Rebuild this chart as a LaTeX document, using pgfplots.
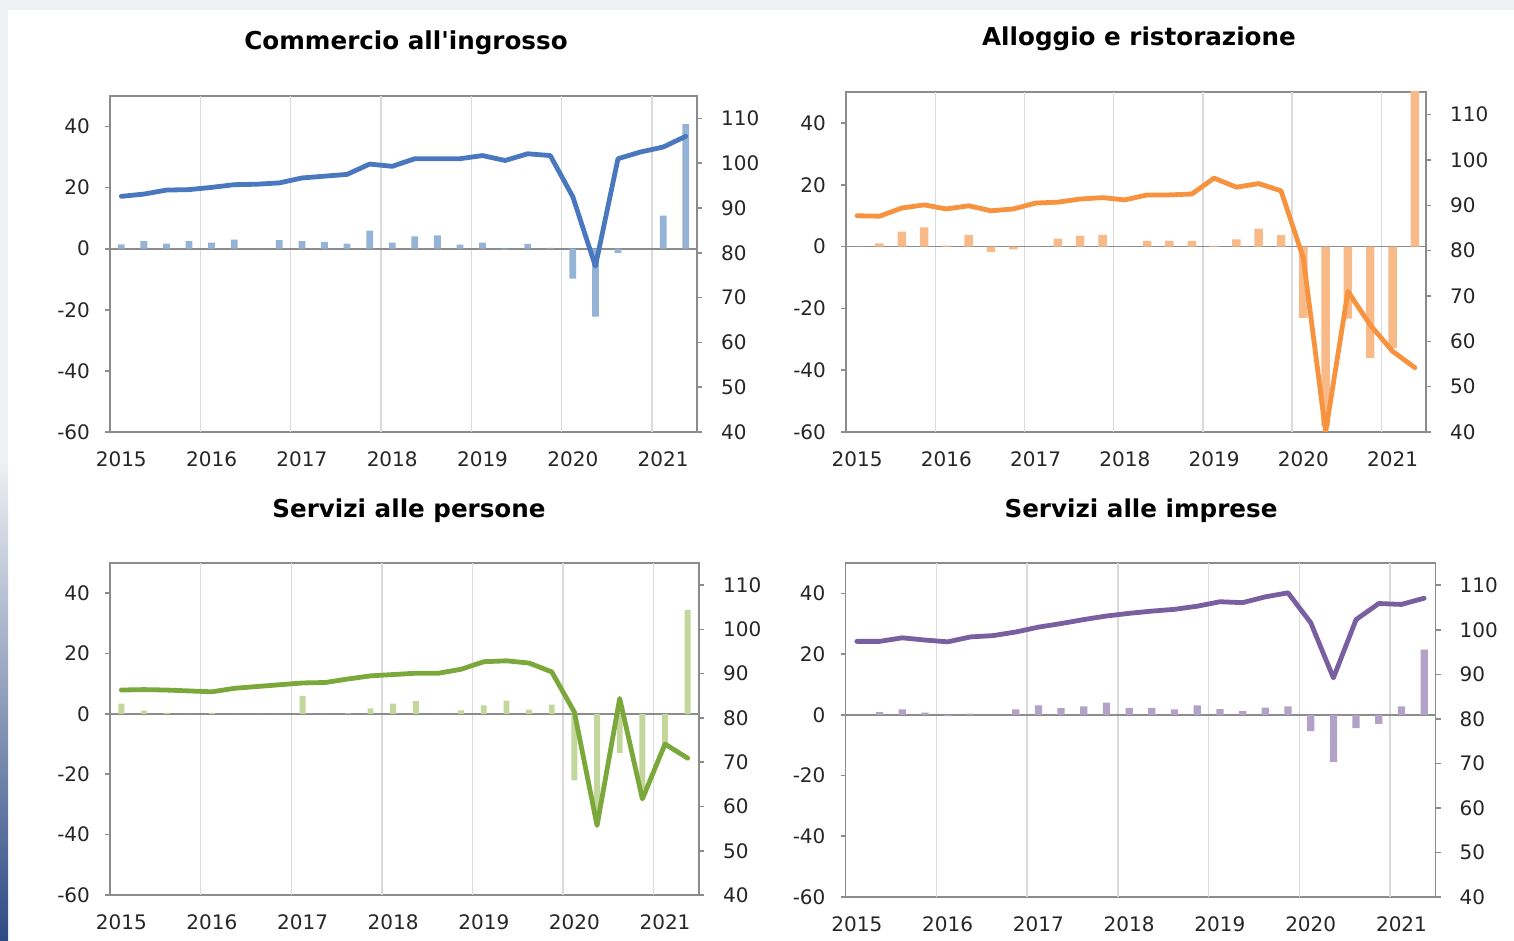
\documentclass[border=0pt]{standalone}
\usepackage{fontspec}
\setmainfont{DejaVu Sans}
\usepackage{pgfplots}
\usepackage{pgfplotstable}
\pgfplotsset{compat=1.18}

\definecolor{bggray}{HTML}{EEF0F3}
\definecolor{stripblue}{HTML}{2E4A82}
\definecolor{axisgray}{HTML}{8C8C8C}
\definecolor{gridgray}{HTML}{DADADA}
\definecolor{lblue}{HTML}{4A78BE}
\definecolor{bblue}{HTML}{95B3D7}
\definecolor{lorange}{HTML}{F7923E}
\definecolor{borange}{HTML}{F8BA88}
\definecolor{lgreen}{HTML}{7BA83B}
\definecolor{bgreen}{HTML}{C3D69B}
\definecolor{lpurple}{HTML}{7A5FA0}
\definecolor{bpurple}{HTML}{B3A2C7}

\newcommand{\ticks}{\fontsize{10}{12}\selectfont}
\newcommand{\ttl}{\fontsize{12.3}{14}\selectfont\bfseries}

% x = quarter centre (2015Q1 ... 2021Q2), b = bar (left axis), l = line (right axis)
\pgfplotstableread{
x b l
0.5 1.4 92.6
1.5 2.5 93.1
2.5 1.7 94.0
3.5 2.5 94.1
4.5 2.0 94.6
5.5 3.0 95.2
6.5 0 95.3
7.5 2.8 95.6
8.5 2.5 96.7
9.5 2.2 97.1
10.5 1.7 97.5
11.5 5.9 99.8
12.5 2.0 99.3
13.5 4.0 101.0
14.5 4.4 101.0
15.5 1.3 101.0
16.5 2.0 101.7
17.5 -0.3 100.6
18.5 1.6 102.1
19.5 0.3 101.7
20.5 -9.8 92.5
21.5 -22.2 77.0
22.5 -1.4 101.0
23.5 0 102.5
24.5 10.8 103.6
25.5 40.8 106.0
}\commercio

\pgfplotstableread{
x b l
0.5 0 87.7
1.5 1.0 87.6
2.5 4.8 89.4
3.5 6.2 90.1
4.5 0.3 89.2
5.5 3.8 89.9
6.5 -1.7 88.8
7.5 -0.9 89.2
8.5 0 90.5
9.5 2.6 90.7
10.5 3.5 91.4
11.5 3.8 91.7
12.5 0 91.2
13.5 1.8 92.3
14.5 1.8 92.3
15.5 1.8 92.5
16.5 0.2 96.0
17.5 2.3 94.0
18.5 5.8 94.8
19.5 3.7 93.2
20.5 -23.1 78.4
21.5 -58 40.0
22.5 -23.3 71.0
23.5 -36.0 63.6
24.5 -32.8 57.8
25.5 60 54.2
}\alloggio

\pgfplotstableread{
x b l
0.5 3.4 86.3
1.5 1.1 86.4
2.5 0.3 86.3
3.5 0 86.1
4.5 0.3 85.9
5.5 0 86.7
6.5 0 87.1
7.5 0 87.5
8.5 6.0 87.9
9.5 0 88.0
10.5 0.2 88.8
11.5 1.8 89.5
12.5 3.4 89.8
13.5 4.2 90.1
14.5 0 90.1
15.5 1.2 91.0
16.5 2.8 92.7
17.5 4.4 92.9
18.5 1.4 92.4
19.5 3.1 90.4
20.5 -22.0 81.3
21.5 -35 55.7
22.5 -12.9 84.4
23.5 -25 61.7
24.5 -10.6 74.1
25.5 34.4 70.9
}\persone

\pgfplotstableread{
x b l
0.5 0 97.4
1.5 0.9 97.4
2.5 1.8 98.2
3.5 0.7 97.7
4.5 -0.4 97.3
5.5 0.4 98.4
6.5 0 98.7
7.5 1.8 99.5
8.5 3.1 100.6
9.5 2.2 101.4
10.5 2.8 102.3
11.5 4.0 103.1
12.5 2.3 103.7
13.5 2.3 104.2
14.5 1.8 104.6
15.5 3.1 105.3
16.5 1.9 106.3
17.5 1.2 106.1
18.5 2.4 107.4
19.5 2.8 108.3
20.5 -5.4 101.6
21.5 -15.6 89.2
22.5 -4.4 102.3
23.5 -3.0 105.9
24.5 2.8 105.7
25.5 21.5 107.1
}\imprese

\pgfplotsset{
  common/.style={
    scale only axis, anchor=south west, clip=true,
    xmin=0, xmax=26,
    axis line style={draw=axisgray, line width=0.8pt},
    tick style={draw=axisgray, line width=0.8pt},
    major tick length=2.5pt,
    tick label style={font=\ticks, text=black!85},
    /pgf/number format/assume math mode=true,
  },
  baraxis/.style={
    common,
    ymin=-60, ymax=50,
    ytick={-60,-40,-20,0,20,40},
    ytick pos=left, ytick align=outside,
    yticklabel style={xshift=-4pt},
    xtick={0.5,4.5,8.5,12.5,16.5,20.5,24.5},
    xticklabels={2015,2016,2017,2018,2019,2020,2021},
    x tick style={draw=none},
    xticklabel style={yshift=-6.5pt},
    extra x ticks={4,8,12,16,20,24},
    extra x tick labels={},
    extra x tick style={grid=major, major grid style={draw=gridgray, line width=0.7pt}, tick style={draw=none}},
    extra y ticks={0},
    extra y tick labels={},
    extra y tick style={grid=major, major grid style={draw=axisgray, line width=0.9pt}},
  },
  lineaxis/.style={
    common,
    ymin=40, ymax=115,
    ytick={40,50,...,110},
    axis y line*=right, axis x line=none,
    ytick align=outside,
    yticklabel style={xshift=6pt},
  },
}

% #1 x, #2 y, #3 width, #4 height, #5 table, #6 line colour, #7 bar colour, #8 bar width
\newcommand{\panel}[8]{%
  \begin{axis}[baraxis, at={(#1,#2)}, width=#3, height=#4]
    \addplot[ybar, bar width=#8, fill=#7, draw=none] table[x=x, y=b]{#5};
  \end{axis}
  \begin{axis}[lineaxis, at={(#1,#2)}, width=#3, height=#4]
    \addplot[#6, line width=2.4pt, line join=round, line cap=round] table[x=x, y=l]{#5};
  \end{axis}}

\begin{document}
\begin{tikzpicture}
  \fill[bggray] (0,0) rectangle (757pt,470.5pt);
  \fill[white] (4pt,0) rectangle (757pt,465.5pt);
  \shade[top color=bggray, bottom color=stripblue] (0,0) rectangle (4pt,240pt);

  \panel{55pt}{254.5pt}{293.5pt}{168pt}{\commercio}{lblue}{bblue}{0.3}
  \panel{423pt}{254.5pt}{290pt}{170pt}{\alloggio}{lorange}{borange}{0.38}
  \panel{55pt}{23pt}{294.5pt}{166pt}{\persone}{lgreen}{bgreen}{0.26}
  \panel{422.75pt}{22pt}{295pt}{167pt}{\imprese}{lpurple}{bpurple}{0.32}

  \node[font=\ttl] at (203pt,449pt) {Commercio all\textquotesingle ingrosso};
  \node[font=\ttl] at (569.5pt,451pt) {Alloggio e ristorazione};
  \node[font=\ttl] at (204.5pt,215pt) {Servizi alle persone};
  \node[font=\ttl] at (570.5pt,215pt) {Servizi alle imprese};
\end{tikzpicture}
\end{document}
